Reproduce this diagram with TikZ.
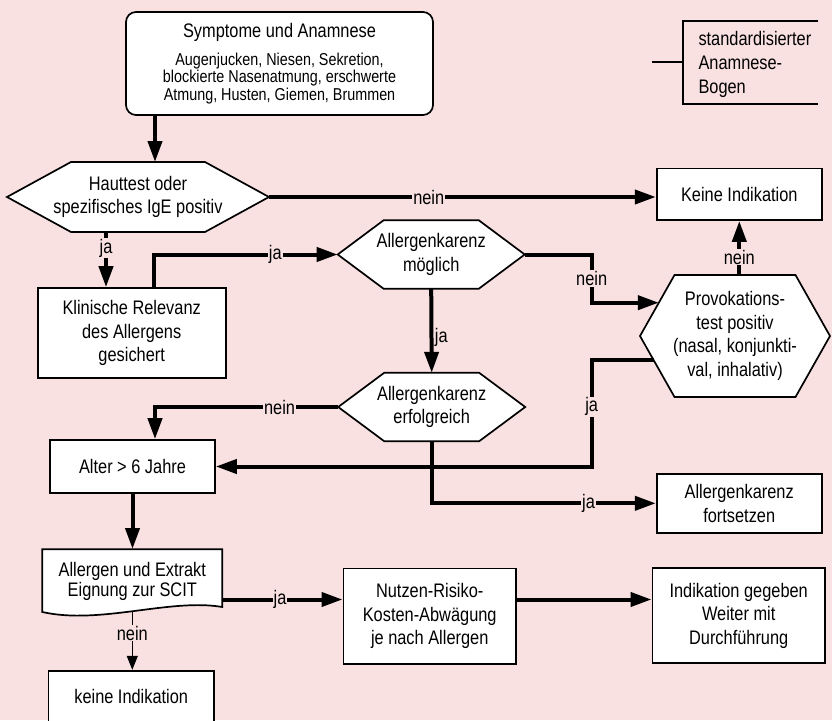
\documentclass[tikz,border=0pt]{standalone}
\usepackage{fontspec}
\setmainfont[FakeStretch=0.835]{Liberation Sans}
\usetikzlibrary{arrows.meta,calc}
\definecolor{bgpink}{RGB}{249,225,226}

\tikzset{
  box/.style={draw, fill=white, line width=1.7pt, align=center, inner sep=0pt,
    font=\fontsize{19.6}{23.5}\selectfont},
  outline/.style={draw, fill=white, line width=1.7pt},
  txt/.style={align=center, inner sep=0pt, font=\fontsize{19.6}{23.5}\selectfont},
  flow/.style={line width=4pt, -{Triangle[length=21pt,width=14pt]}},
  thinflow/.style={line width=1pt, -{Triangle[length=14pt,width=11pt]}},
  lbl/.style={fill=bgpink, inner sep=1pt, font=\fontsize{19.6}{20}\selectfont},
  sidelbl/.style={inner sep=0pt, anchor=west, xshift=1.5pt, font=\fontsize{19.6}{20}\selectfont},
  bracket/.style={line width=1.3pt},
}

% hexagonal decision node: name, cx, cy, tip half-width, flat half-width, half-height, text
\newcommand{\hexnode}[7]{%
  \coordinate (#1-w)  at ({#2-#4},#3);
  \coordinate (#1-e)  at ({#2+#4},#3);
  \coordinate (#1-nw) at ({#2-#5},{#3-#6});
  \coordinate (#1-ne) at ({#2+#5},{#3-#6});
  \coordinate (#1-sw) at ({#2-#5},{#3+#6});
  \coordinate (#1-se) at ({#2+#5},{#3+#6});
  \coordinate (#1-n)  at (#2,{#3-#6});
  \coordinate (#1-s)  at (#2,{#3+#6});
  \draw[outline] (#1-w) -- (#1-nw) -- (#1-ne) -- (#1-e) -- (#1-se) -- (#1-sw) -- cycle;
  \node[txt] (#1) at (#2,#3) {#7};
}

\begin{document}
\begin{tikzpicture}[x=1pt,y=-1pt]
\useasboundingbox (0,0) rectangle (832,720);
\fill[bgpink] (0,0) rectangle (832,720);

% helper positions for off-centre connectors
\coordinate (x106) at (106,0);
\coordinate (x154) at (154,0);
\coordinate (x155) at (155,0);
\coordinate (x592) at (591.7,0);
\coordinate (y599) at (0,599.5);

% ---------- process boxes ----------
\node[box, rounded corners=10pt, minimum width=307pt, minimum height=103pt,
      font=\fontsize{17.2}{17.5}\selectfont] (sym) at (279.5,63.5)
  {{\fontsize{19.6}{20}\selectfont Symptome und Anamnese}\\[10.8pt]
   Augenjucken, Niesen, Sekretion,\\
   blockierte Nasenatmung, erschwerte\\
   Atmung, Husten, Giemen, Brummen};

\node[box, minimum width=165.3pt, minimum height=51.7pt] (keine) at (739.3,194.2) {Keine Indikation};
\node[box, minimum width=188pt, minimum height=90pt] (klin) at (131.7,333) {Klinische Relevanz\\des Allergens\\gesichert};
\node[box, minimum width=165pt, minimum height=53pt] (alter) at (132.5,466.5) {Alter > 6 Jahre};
\node[box, minimum width=165pt, minimum height=58.7pt] (fort) at (739.2,503.3) {Allergenkarenz\\fortsetzen};
\node[box, minimum width=172.7pt, minimum height=95.7pt] (nut) at (429.7,616.2) {Nutzen-Risiko-\\Kosten-Abwägung\\je nach Allergen};
\node[box, minimum width=172.7pt, minimum height=95.6pt] (ind) at (738.7,615.5) {Indikation gegeben\\Weiter mit\\Durchführung};
\node[box, minimum width=165.7pt, minimum height=52pt] (keine2) at (131.2,696.7) {keine Indikation};

% document-shaped box with wavy lower edge
\draw[outline] (42.3,549.3) -- (222.3,549.3) -- (222.3,607)
  .. controls (170,598) and (100,625) .. (42.3,612) -- cycle;
\node[txt, font=\fontsize{19.6}{20}\selectfont, minimum width=180pt, minimum height=65pt] (ext) at (132.3,581.7)
  {Allergen und Extrakt\\Eignung zur SCIT};

% ---------- decisions ----------
\hexnode{h1}{138}{197}{131}{67}{35}{Hauttest oder\\spezifisches IgE positiv}
\hexnode{mo}{431.2}{254.5}{93.5}{47.5}{34.3}{Allergenkarenz\\möglich}
\hexnode{er}{431.7}{407}{93.5}{47.5}{34.2}{Allergenkarenz\\erfolgreich}
\hexnode{pv}{735}{336}{95}{60.5}{61}{\fontsize{19.6}{21.7}\selectfont Provokations-\\
  \fontsize{19.6}{21.7}\selectfont test positiv\\
  \fontsize{19.6}{21.7}\selectfont (nasal, konjunkti-\\
  \fontsize{19.6}{21.7}\selectfont val, inhalativ)}

% ---------- note bracket ----------
\node[txt, align=left, anchor=west, font=\fontsize{19.6}{24}\selectfont] (anno) at (698.3,64)
  {standardisierter\\Anamnese-\\Bogen};
\coordinate (anno-tl) at (683,21);
\coordinate (anno-bl) at (683,104);
\coordinate (anno-tr) at (818,21);
\coordinate (anno-br) at (818,104);
\coordinate (anno-stub) at (652,62);
\draw[bracket] (anno-tr) -- (anno-tl) -- (anno-bl) -- (anno-br);
\draw[bracket] (anno-stub) -- (anno-stub -| anno-tl);

% ---------- connectors ----------
\draw[flow] (sym.south -| x155) -- (h1-n -| x155);
\draw[flow] (h1-e) -- (h1-e -| keine.west) node[lbl, pos=0.413] {nein};
\draw[flow] (h1-s -| x106) -- (klin.north -| x106) node[lbl, pos=0.29] {ja};
\draw[flow] (klin.north -| x154) |- (mo-w) node[lbl, pos=0.83] {ja};
\draw[flow] (mo-s) -- (er-n) node[sidelbl, pos=0.58] {ja};

\coordinate (pv-in) at ($(pv-w)!0.546!(pv-nw)$);
\draw[flow] (mo-e) -- (mo-e -| x592) -- (x592 |- pv-in) node[lbl, midway] {nein} -- (pv-in);
\draw[flow] (pv-n -| keine.south) -- (keine.south) node[lbl, pos=0.33] {nein};

\coordinate (pv-out) at ($(pv-w)!0.393!(pv-sw)$);
\draw[flow] (pv-out) -- (pv-out -| x592) -- (x592 |- alter.east) node[lbl, pos=0.44] {ja} -- (alter.east);

\draw[flow] (er-w) -| (alter.north -| x155) node[lbl, pos=0.16] {nein};
\draw[flow] (er-s) |- (fort.west) node[lbl, pos=0.85] {ja};

\draw[flow] (alter.south) -- (alter.south |- ext.north);
\draw[flow] (ext.east |- y599) -- (nut.west |- y599) node[lbl, pos=0.48] {ja};
\draw[flow] (nut.east |- y599) -- (ind.west |- y599);
\draw[thinflow] ([yshift=3pt]ext.south) -- (ext.south |- keine2.north) node[lbl, pos=0.37] {nein};

\end{tikzpicture}
\end{document}
